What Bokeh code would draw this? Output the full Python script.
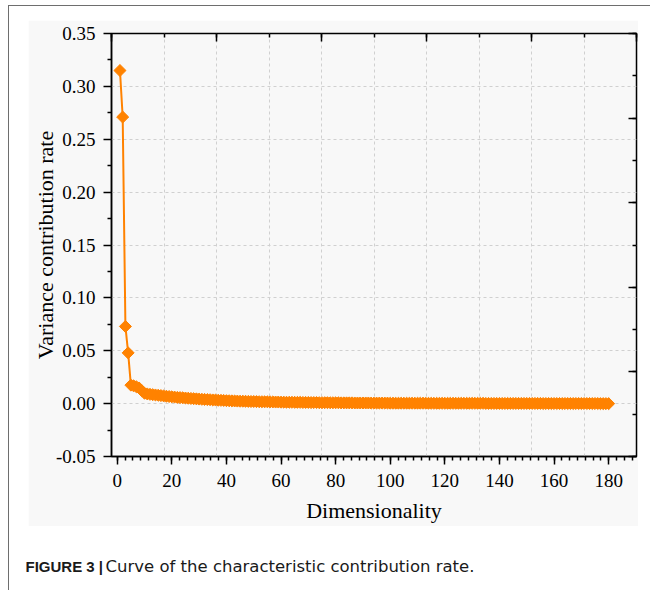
from bokeh.plotting import figure
from bokeh.models import (Range1d, LinearAxis, SingleIntervalTicker, FixedTicker, PrintfTickFormatter,
                          CustomJSTickFormatter, Grid, ColumnDataSource, Column)
from bokeh.core.properties import value
from bokeh.embed import file_html
from bokeh.resources import INLINE

# ---------------- data ----------------
dimension = list(range(1, 181))
contribution = [
    0.315, 0.271, 0.073, 0.048, 0.0175, 0.0168, 0.0160, 0.0148, 0.0122, 0.0098,
    0.0092, 0.0088, 0.0085, 0.0082, 0.0079, 0.0076, 0.0073, 0.0070, 0.0067, 0.0064,
    0.0062, 0.0059, 0.0057, 0.0055, 0.0053, 0.0051, 0.0049, 0.0047, 0.0045, 0.0043,
    0.0041, 0.0040, 0.0038, 0.0037, 0.0035, 0.0034, 0.0032, 0.0031, 0.0030, 0.0028,
    0.0027, 0.0026, 0.0025, 0.0024, 0.0023, 0.0023, 0.0022, 0.0021, 0.0020, 0.0020,
    0.0019, 0.0018, 0.0018, 0.0017, 0.0017, 0.0016, 0.0016, 0.0015, 0.0015, 0.0014,
    0.0014, 0.0013, 0.0013, 0.0013, 0.0012, 0.0012, 0.0012, 0.0011, 0.0011, 0.0011,
    0.0010, 0.0010, 0.0010, 0.0009, 0.0009, 0.0009, 0.0009, 0.0008, 0.0008, 0.0008,
    0.0008, 0.0007, 0.0007, 0.0007, 0.0007, 0.0007, 0.0006, 0.0006, 0.0006, 0.0006,
    0.0006, 0.0006, 0.0005, 0.0005, 0.0005, 0.0005, 0.0005, 0.0005, 0.0005, 0.0004,
    0.0004, 0.0004, 0.0004, 0.0004, 0.0004, 0.0004, 0.0004, 0.0004, 0.0004, 0.0004,
    0.0004, 0.0004, 0.0004, 0.0003, 0.0003, 0.0003, 0.0003, 0.0003, 0.0003, 0.0003,
    0.0003, 0.0003, 0.0003, 0.0003, 0.0003, 0.0003, 0.0003, 0.0003, 0.0003, 0.0003,
    0.0003, 0.0003, 0.0003, 0.0003, 0.0002, 0.0002, 0.0002, 0.0002, 0.0002, 0.0002,
    0.0002, 0.0002, 0.0002, 0.0002, 0.0002, 0.0002, 0.0002, 0.0002, 0.0002, 0.0002,
    0.0002, 0.0002, 0.0002, 0.0002, 0.0002, 0.0001, 0.0001, 0.0001, 0.0001, 0.0001,
    0.0001, 0.0001, 0.0001, 0.0001, 0.0001, 0.0001, 0.0001, 0.0001, 0.0001, 0.0001,
    0.0001, 0.0001, 0.0001, 0.0001, 0.0001, 0.0001, 0.0000, 0.0000, 0.0000, 0.0000,
]
y_ticks = [-0.05, 0.00, 0.05, 0.10, 0.15, 0.20, 0.25, 0.30, 0.35]
y_minor_ticks = [-0.025, 0.025, 0.075, 0.125, 0.175, 0.225, 0.275, 0.325]
x_label = "Dimensionality"
y_label = "Variance contribution rate"
caption_bold = "FIGURE 3 |"
caption_text = "Curve of the characteristic contribution rate."

# ---------------- styles ----------------
ORANGE = "#FF8200"
PANEL = "#f8f8f8"
SERIF = "Liberation Serif"
RULE = "1px solid #6e6e6e"

X0, X1, Y0, Y1 = -2.1, 190.2, -0.05, 0.35

p = figure(frame_width=525, frame_height=423, output_backend="svg", toolbar_location=None,
           x_range=Range1d(X0, X1), y_range=Range1d(Y0, Y1),
           x_axis_type=None, y_axis_type=None,
           min_border_left=83, min_border_top=13, min_border_right=2, min_border_bottom=70,
           margin=(14, 0, 0, 19))
p.border_fill_color = PANEL
p.background_fill_color = PANEL
p.outline_line_color = "black"
p.outline_line_width = 1.5

p.extra_x_ranges = {"top": Range1d(0, 10)}
p.extra_y_ranges = {"right": Range1d(0, 10)}

# axes
xa = LinearAxis(ticker=SingleIntervalTicker(interval=20, num_minor_ticks=7), axis_label=x_label)
ya = LinearAxis(ticker=FixedTicker(ticks=y_ticks, minor_ticks=y_minor_ticks),
                formatter=PrintfTickFormatter(format="%.2f"), axis_label=y_label)
for ax in (xa, ya):
    ax.axis_line_width = 1.5
    ax.axis_line_color = "black"
    ax.major_tick_line_width = 1.5
    ax.minor_tick_line_width = 1.5
    ax.major_tick_in = 0
    ax.major_tick_out = 8
    ax.minor_tick_in = 0
    ax.minor_tick_out = 4
    ax.major_label_text_font = SERIF
    ax.major_label_text_font_size = "19px"
    ax.major_label_text_color = "black"
    ax.axis_label_text_font = SERIF
    ax.axis_label_text_font_size = "22px"
    ax.axis_label_text_font_style = "normal"
    ax.axis_label_text_color = "black"
    ax.major_label_standoff = 9
xa.axis_label_standoff = 8
ya.major_label_standoff = 8
ya.axis_label_standoff = -5
p.add_layout(xa, "below")
p.add_layout(ya, "left")

ta = LinearAxis(x_range_name="top", ticker=SingleIntervalTicker(interval=2, num_minor_ticks=2),
                formatter=CustomJSTickFormatter(code="return ''"))
ra = LinearAxis(y_range_name="right", ticker=SingleIntervalTicker(interval=2, num_minor_ticks=2),
                formatter=CustomJSTickFormatter(code="return ''"))
for ax in (ta, ra):
    ax.axis_line_color = None
    ax.major_tick_line_width = 1.5
    ax.minor_tick_line_width = 1.5
    ax.major_tick_in = 8
    ax.major_tick_out = 0
    ax.minor_tick_in = 4
    ax.minor_tick_out = 0
    ax.major_label_standoff = 0
    ax.major_label_text_font_size = "1px"
    ax.major_label_text_color = None
p.add_layout(ta, "above")
p.add_layout(ra, "right")

# grids
vgrid = Grid(dimension=0, ticker=SingleIntervalTicker(interval=1), x_range_name="top",
             grid_line_color="#d0d0d0", grid_line_dash="3 3", grid_line_width=1)
hgrid = Grid(dimension=1, ticker=FixedTicker(ticks=y_ticks),
             grid_line_color="#d0d0d0", grid_line_dash="3 3", grid_line_width=1)
p.add_layout(vgrid)
p.add_layout(hgrid)

# data
src = ColumnDataSource(dict(x=dimension, y=contribution))
p.line("x", "y", source=src, line_color=ORANGE, line_width=2)
p.scatter("x", "y", source=src, marker="square", angle=45, angle_units="deg", size=8.5,
          fill_color=ORANGE, line_color=ORANGE)

# caption strip (pixel coordinates inside its own frame)
CW, CH = 620, 64
cap = figure(width=CW, height=CH, output_backend="svg", toolbar_location=None,
             x_range=Range1d(0, CW), y_range=Range1d(0, CH),
             x_axis_type=None, y_axis_type=None, min_border=0)
cap.outline_line_color = None
cap.background_fill_color = "white"
cap.border_fill_color = "white"
cap.text(x=[16], y=[24], text=[caption_bold], text_font=value("Liberation Sans"),
         text_font_style="bold", text_font_size="15px", text_baseline="alphabetic",
         text_color="#1a1a1a")
cap.text(x=[96], y=[24], text=[caption_text], text_font=value("DejaVu Sans"),
         text_font_style="normal", text_font_size="16.5px", text_baseline="alphabetic",
         text_color="#1a1a1a")

top_part = Column(children=[p], width=642, margin=(5, 0, 0, 8),
                  styles={"border-top": RULE, "border-left": RULE, "background-color": "white"})
bottom_part = Column(children=[cap], margin=(0, 0, 0, 8),
                     styles={"border-left": RULE, "background-color": "white"})

open("out.html", "w").write(file_html([top_part, bottom_part], INLINE))
